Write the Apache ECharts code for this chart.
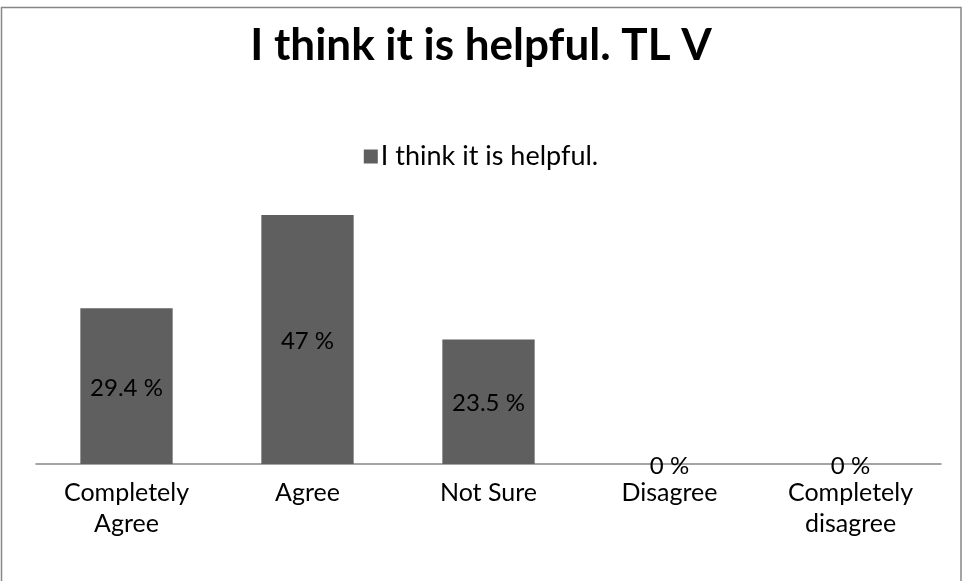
<!DOCTYPE html>
<html>
<head>
<meta charset="utf-8">
<script src="https://cdn.jsdelivr.net/npm/echarts@6/dist/echarts.min.js"></script>
<style>html,body{margin:0;padding:0;background:#fff;}#c{width:962px;height:581px;}</style>
</head>
<body>
<div id="c"></div>
<script>
var categories = ['Completely\nAgree', 'Agree', 'Not Sure', 'Disagree', 'Completely\ndisagree'];
var values = [29.4, 47, 23.5, 0, 0];
var seriesName = 'I think it is helpful.';
var titleText = 'I think it is helpful. TL V';

var chart = echarts.init(document.getElementById('c'));
var FONT = 'Lato, "Open Sans", sans-serif';
chart.setOption({
  animation: false,
  backgroundColor: '#fff',
  graphic: [{
    type: 'rect', shape: {x: 1.5, y: 7.5, width: 959.5, height: 620},
    style: {fill: 'none', stroke: '#868686', lineWidth: 1.5}, silent: true
  }],
  title: {
    text: titleText, left: 'center', top: 19,
    textStyle: {fontFamily: FONT, fontSize: 44, fontWeight: 'bold', color: '#000'}
  },
  legend: {
    data: [seriesName], top: 138, left: 'center',
    icon: 'rect', itemWidth: 14, itemHeight: 14, itemGap: 4,
    textStyle: {fontFamily: FONT, fontSize: 27, color: '#000', padding: [0,0,0,-2]}
  },
  grid: {left: 36, right: 21, top: 199, bottom: 117, containLabel: false},
  xAxis: {
    type: 'category', data: categories,
    axisLine: {lineStyle: {color: '#868686', width: 1.5}},
    axisTick: {show: false},
    axisLabel: {fontFamily: FONT, fontSize: 25, color: '#000', margin: 13, lineHeight: 31, interval: 0}
  },
  yAxis: {type: 'value', min: 0, max: 50, show: false, splitLine: {show: false}},
  series: [{
    name: seriesName, type: 'bar', data: values,
    barCategoryGap: '49%',
    itemStyle: {color: '#5f5f5f'},
    label: {show: true, position: 'inside', formatter: '{c} %', fontFamily: FONT, fontSize: 24, color: '#000', offset: [0, 2]}
  }]
});
</script>
</body>
</html>
